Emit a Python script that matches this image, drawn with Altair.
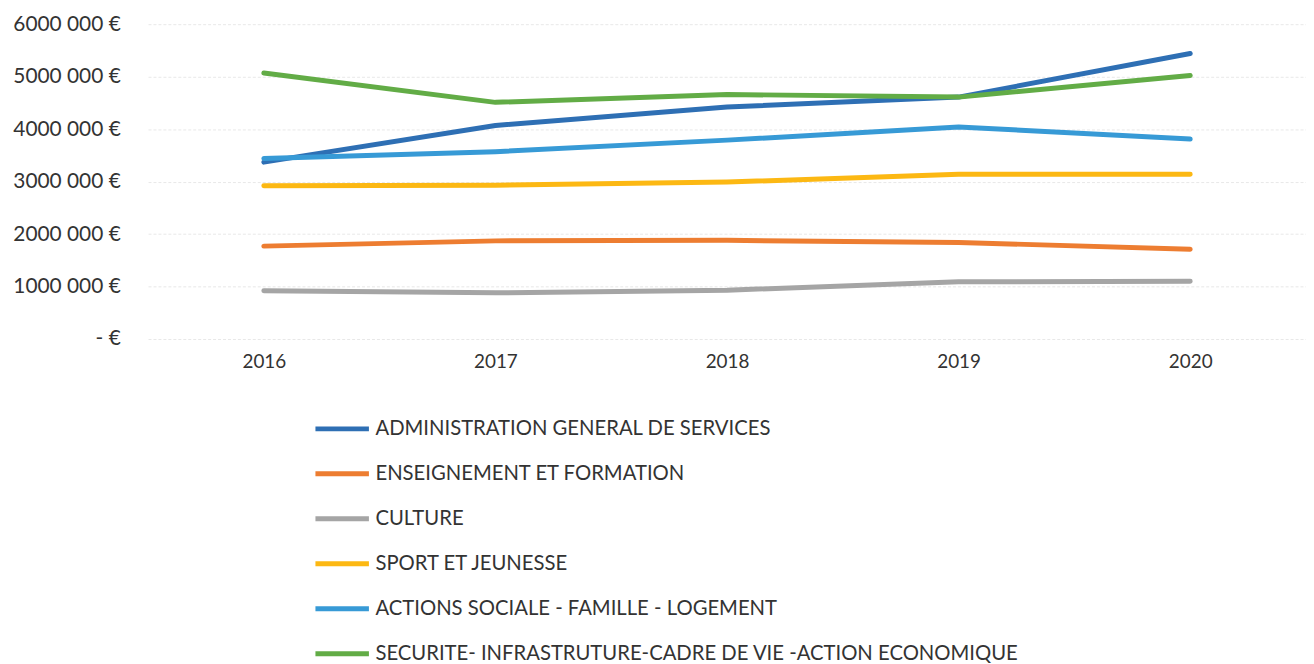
import altair as alt
import pandas as pd

years = ["2016", "2017", "2018", "2019", "2020"]
series = [
    "ADMINISTRATION GENERAL DE SERVICES",
    "\u2002ENSEIGNEMENT ET FORMATION",
    "CULTURE",
    "SPORT ET JEUNESSE",
    "ACTIONS SOCIALE - FAMILLE - LOGEMENT",
    "SECURITE- INFRASTRUTURE-CADRE DE VIE -ACTION ECONOMIQUE",
]
admin = [3370000, 4070000, 4420000, 4610000, 5440000]
enseignement = [1770000, 1870000, 1880000, 1840000, 1710000]
culture = [920000, 880000, 930000, 1090000, 1100000]
sport = [2920000, 2930000, 2990000, 3140000, 3140000]
social = [3440000, 3570000, 3790000, 4040000, 3810000]
securite = [5070000, 4510000, 4660000, 4610000, 5020000]
colors = ["#2e6fb4", "#ed7d31", "#a5a5a5", "#fcb813", "#379ad6", "#62ac46"]

values = [admin, enseignement, culture, sport, social, securite]
rows = []
for s, vals in zip(series, values):
    for y, v in zip(years, vals):
        rows.append({"Année": y, "Série": s, "Montant": v})
df = pd.DataFrame(rows)

chart = alt.Chart(df).mark_line(strokeWidth=5, strokeCap="round", strokeJoin="round").encode(
    x=alt.X("Année:N", sort=years, title=None,
            scale=alt.Scale(type="point", padding=0.5),
            axis=alt.Axis(labelAngle=0, domain=False, ticks=False, grid=False,
                          labelFontSize=19, labelColor="#333333", labelPadding=14,
                          labelFont="Lato")),
    y=alt.Y("Montant:Q", title=None,
            scale=alt.Scale(domain=[0, 6000000]),
            axis=alt.Axis(values=[0, 1000000, 2000000, 3000000, 4000000, 5000000, 6000000],
                          labelExpr="datum.value == 0 ? '- €' : format(datum.value / 1000000, 'd') + '000 000 €'",
                          domain=False, ticks=False, gridColor="#e8e8e8", gridWidth=1,
                          gridDash=[3, 2],
                          labelFontSize=21, labelColor="#333333", labelPadding=28,
                          labelFont="Lato")),
    color=alt.Color("Série:N", sort=series,
                    scale=alt.Scale(domain=series, range=colors),
                    legend=alt.Legend(title=None, orient="none", legendX=166, legendY=378,
                                      direction="vertical", symbolType="stroke",
                                      symbolSize=2900, symbolStrokeWidth=5,
                                      labelFontSize=20.4, labelFont="Lato", labelColor="#333333",
                                      labelOffset=4, rowPadding=5.3, labelLimit=800)),
    order=alt.Order("Année:N"),
).properties(
    width=1166, height=317, padding={"left": 4, "top": 3, "right": 0, "bottom": 0}
).configure_view(stroke=None)

chart.save("out.html", embed_options={"renderer": "svg", "actions": False})
